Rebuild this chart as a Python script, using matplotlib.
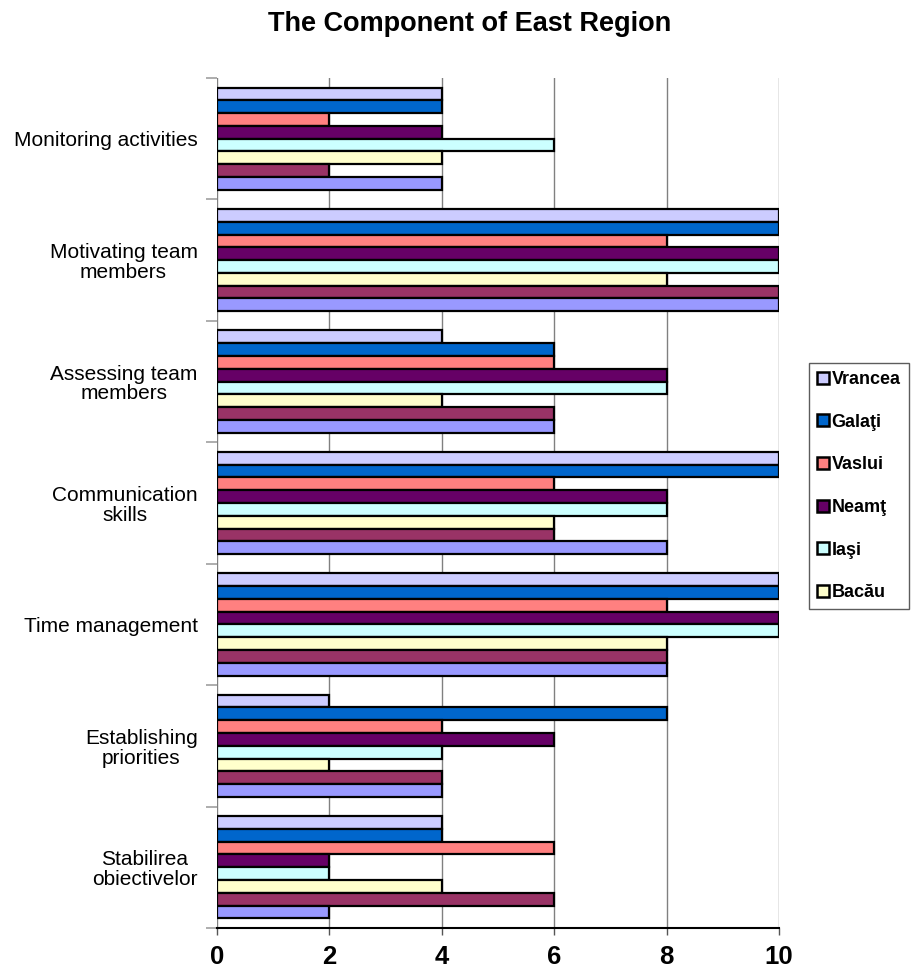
import numpy as np
import matplotlib.pyplot as plt
from matplotlib.patches import Patch

plt.rcParams['font.family'] = ['Liberation Sans', 'DejaVu Sans']

categories = ['Monitoring activities', 'Motivating team\nmembers', 'Assessing team\nmembers',
              'Communication\nskills', 'Time management', 'Establishing\npriorities',
              'Stabilirea\nobiectivelor']

# series listed top bar first inside each group
series = ['Vrancea', 'Galaţi', 'Vaslui', 'Neamţ', 'Iaşi', 'Bacău', 'Botoşani', 'Suceava']
colors = ['#CCCCFF', '#0066CC', '#FF8080', '#660066', '#CCFFFF', '#FFFFCC', '#993366', '#9999FF']

vrancea  = [4, 10, 4, 10, 10, 2, 4]
galati   = [4, 10, 6, 10, 10, 8, 4]
vaslui   = [2, 8, 6, 6, 8, 4, 6]
neamt    = [4, 10, 8, 8, 10, 6, 2]
iasi     = [6, 10, 8, 8, 10, 4, 2]
bacau    = [4, 8, 4, 6, 8, 2, 4]
botosani = [2, 10, 6, 6, 8, 4, 6]
suceava  = [4, 10, 6, 8, 8, 4, 2]
values = [vrancea, galati, vaslui, neamt, iasi, bacau, botosani, suceava]

fig = plt.figure(figsize=(9.14, 9.72), dpi=100)
ax = fig.add_axes([0.2374, 0.0453, 0.6149, 0.8745])

n = len(series)
h = 1 / (n + 1.5)
y = np.arange(len(categories))
for k, (vals, col) in enumerate(zip(values, colors)):
    ax.barh(y + (k - (n - 1) / 2) * h, vals, height=h, color=col,
            edgecolor='black', linewidth=1.6, zorder=3)

ax.set_xlim(0, 10)
ax.set_ylim(len(categories) - 0.5, -0.5)
ax.set_xticks(range(0, 11, 2))
ax.tick_params(axis='x', length=5, width=1, color='#555555', pad=7, labelsize=18.5)
for lab in ax.get_xticklabels():
    lab.set_fontweight('bold')
ax.xaxis.grid(True, color='#808080', linewidth=1, zorder=0)

ax.set_yticks(y)
ax.set_yticklabels(categories, fontsize=15, multialignment='center')
for lab in ax.get_yticklabels():
    lab.set_linespacing(1.05)
ax.tick_params(axis='y', which='major', length=0, pad=14)
ax.set_yticks(np.arange(len(categories) + 1) - 0.5, minor=True)
ax.tick_params(axis='y', which='minor', length=8, width=1.2, color='#a0a0a0')

for side in ['top', 'right', 'left']:
    ax.spines[side].set_visible(False)
ax.spines['bottom'].set_linewidth(1.5)

fig.text(470 / 914, 1 - 24 / 972, 'The Component of East Region', ha='center', va='center',
         fontsize=19.5, fontweight='bold')

handles = [Patch(facecolor=c, edgecolor='black', linewidth=1.8) for c in colors[:6]]
leg = fig.legend(handles, series[:6], loc='upper left', bbox_to_anchor=(809 / 914, 1 - 363 / 972),
                 frameon=True, fancybox=False, prop={'weight': 'bold', 'size': 13},
                 handlelength=0.65, handleheight=0.65, handletextpad=0.15,
                 labelspacing=1.42, borderpad=0.45, borderaxespad=0)
leg.get_frame().set_edgecolor('#333333')
leg.get_frame().set_linewidth(1)

fig.savefig('out.png', dpi=100)
